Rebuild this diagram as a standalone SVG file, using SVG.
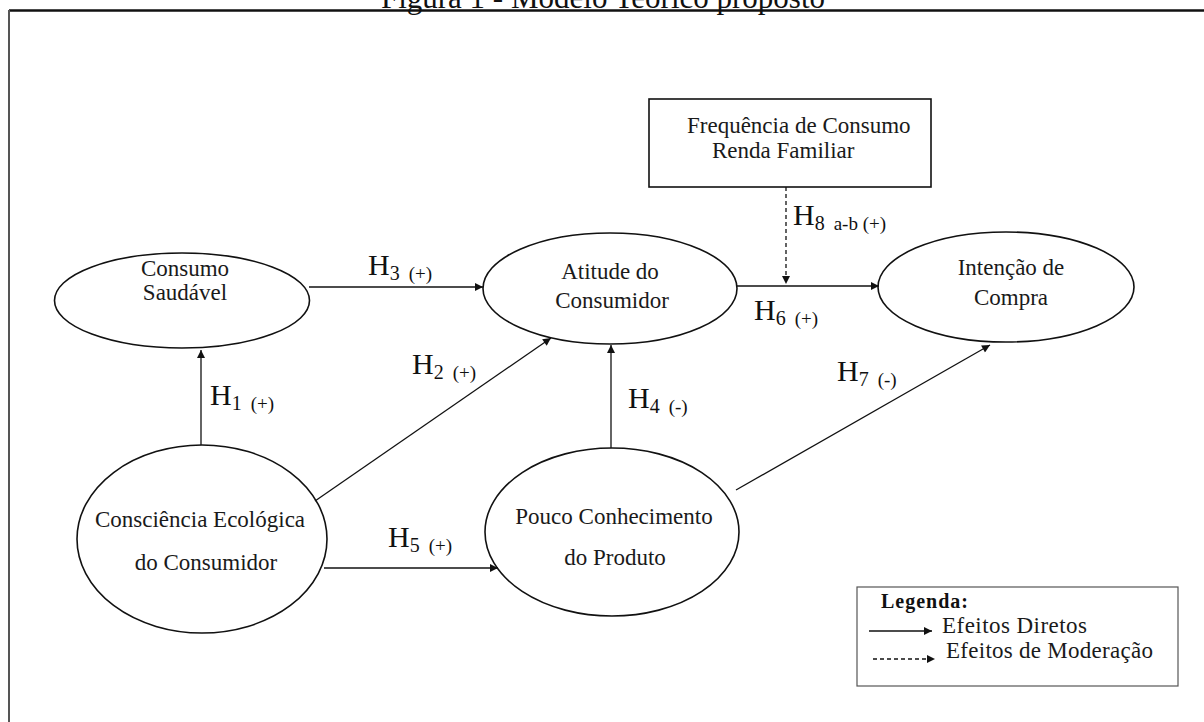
<svg xmlns="http://www.w3.org/2000/svg" width="1204" height="722" viewBox="0 0 1204 722">
<defs>
<style>
.t{font-family:"Liberation Serif","Times New Roman",serif;font-size:23px;fill:#1a1a1a}
.h{font-family:"Liberation Serif","Times New Roman",serif;font-size:30px;fill:#111}
.s{font-size:20px}
.p{font-size:19px}
.n{fill:#fff;stroke:#111;stroke-width:1.6}
.c{stroke:#111;stroke-width:1.3;fill:none}
.d{stroke:#111;stroke-width:1.3;fill:none;stroke-dasharray:4 3}
</style>
<marker id="a" viewBox="0 0 10 10" refX="10" refY="5" markerWidth="9" markerHeight="8" markerUnits="userSpaceOnUse" orient="auto">
<path d="M0,0 L10,5 L0,10 z" fill="#111"/>
</marker>
</defs>
<rect width="1204" height="722" fill="#fff"/>
<text x="603" y="8" text-anchor="middle" font-family="Liberation Serif, serif" font-size="31" fill="#111">Figura 1 - Modelo Teórico proposto</text>
<line x1="9" y1="10.5" x2="1204" y2="10.5" stroke="#111" stroke-width="2.5"/>
<line x1="9" y1="10" x2="9" y2="722" stroke="#555" stroke-width="2"/>

<g id="consumo">
<ellipse class="n" cx="182" cy="300.5" rx="127.5" ry="47.5"/>
<text class="t" x="185" y="276" text-anchor="middle">Consumo</text>
<text class="t" x="185" y="300" text-anchor="middle">Saudável</text>
</g>
<g id="atitude">
<ellipse class="n" cx="610" cy="288.5" rx="127" ry="55.5"/>
<text class="t" x="610" y="279" text-anchor="middle">Atitude do</text>
<text class="t" x="612" y="308" text-anchor="middle">Consumidor</text>
</g>
<g id="intencao">
<ellipse class="n" cx="1006" cy="287" rx="128" ry="55"/>
<text class="t" x="1011" y="275" text-anchor="middle">Intenção de</text>
<text class="t" x="1011" y="305" text-anchor="middle">Compra</text>
</g>
<g id="consciencia">
<ellipse class="n" cx="202" cy="539" rx="125" ry="94"/>
<text class="t" x="200" y="527" text-anchor="middle">Consciência Ecológica</text>
<text class="t" x="206" y="570" text-anchor="middle">do Consumidor</text>
</g>
<g id="pouco">
<ellipse class="n" cx="612" cy="532" rx="127" ry="84"/>
<text class="t" x="614" y="524" text-anchor="middle">Pouco Conhecimento</text>
<text class="t" x="615" y="565" text-anchor="middle">do Produto</text>
</g>
<g id="moderadores">
<rect class="n" x="649" y="99" width="282" height="88" stroke-width="1.2" stroke="#555"/>
<text class="t" x="687" y="133">Frequência de Consumo</text>
<text class="t" x="712" y="158">Renda Familiar</text>
</g>

<g id="connectors">
<line class="c" x1="201" y1="445" x2="201" y2="350" marker-end="url(#a)"/>
<line class="c" x1="315" y1="501" x2="551" y2="338" marker-end="url(#a)"/>
<line class="c" x1="309" y1="287" x2="483" y2="287" marker-end="url(#a)"/>
<line class="c" x1="611" y1="448" x2="611" y2="345" marker-end="url(#a)"/>
<line class="c" x1="324" y1="568" x2="498" y2="568" marker-end="url(#a)"/>
<line class="c" x1="737" y1="286" x2="879" y2="286" marker-end="url(#a)"/>
<line class="c" x1="736" y1="490" x2="990" y2="345" marker-end="url(#a)"/>
<line class="d" x1="786" y1="187" x2="786" y2="284" marker-end="url(#a)"/>
</g>

<g id="labels">
<text class="h" x="210" y="405">H<tspan class="s" dy="5">1</tspan><tspan class="p" dx="9">(+)</tspan></text>
<text class="h" x="412" y="374">H<tspan class="s" dy="5">2</tspan><tspan class="p" dx="9">(+)</tspan></text>
<text class="h" x="368" y="275">H<tspan class="s" dy="5">3</tspan><tspan class="p" dx="9">(+)</tspan></text>
<text class="h" x="628" y="408">H<tspan class="s" dy="5">4</tspan><tspan class="p" dx="9">(-)</tspan></text>
<text class="h" x="388" y="547">H<tspan class="s" dy="5">5</tspan><tspan class="p" dx="9">(+)</tspan></text>
<text class="h" x="754" y="320">H<tspan class="s" dy="5">6</tspan><tspan class="p" dx="9">(+)</tspan></text>
<text class="h" x="837" y="381">H<tspan class="s" dy="5">7</tspan><tspan class="p" dx="9">(-)</tspan></text>
<text class="h" x="793" y="225">H<tspan class="s" dy="5">8</tspan><tspan class="p" dx="9">a-b (+)</tspan></text>
</g>

<g id="legenda">
<rect x="857" y="587" width="321" height="99" fill="#fff" stroke="#555" stroke-width="1.2"/>
<text x="881" y="608" font-family="Liberation Serif, serif" font-size="20" font-weight="bold" letter-spacing="1" fill="#111">Legenda:</text>
<line class="c" x1="869" y1="631" x2="932" y2="631" marker-end="url(#a)"/>
<text class="t" x="942" y="633" textLength="145">Efeitos Diretos</text>
<line class="d" x1="873" y1="659" x2="935" y2="659" marker-end="url(#a)"/>
<text class="t" x="946" y="658" textLength="207">Efeitos de Moderação</text>
</g>
</svg>
